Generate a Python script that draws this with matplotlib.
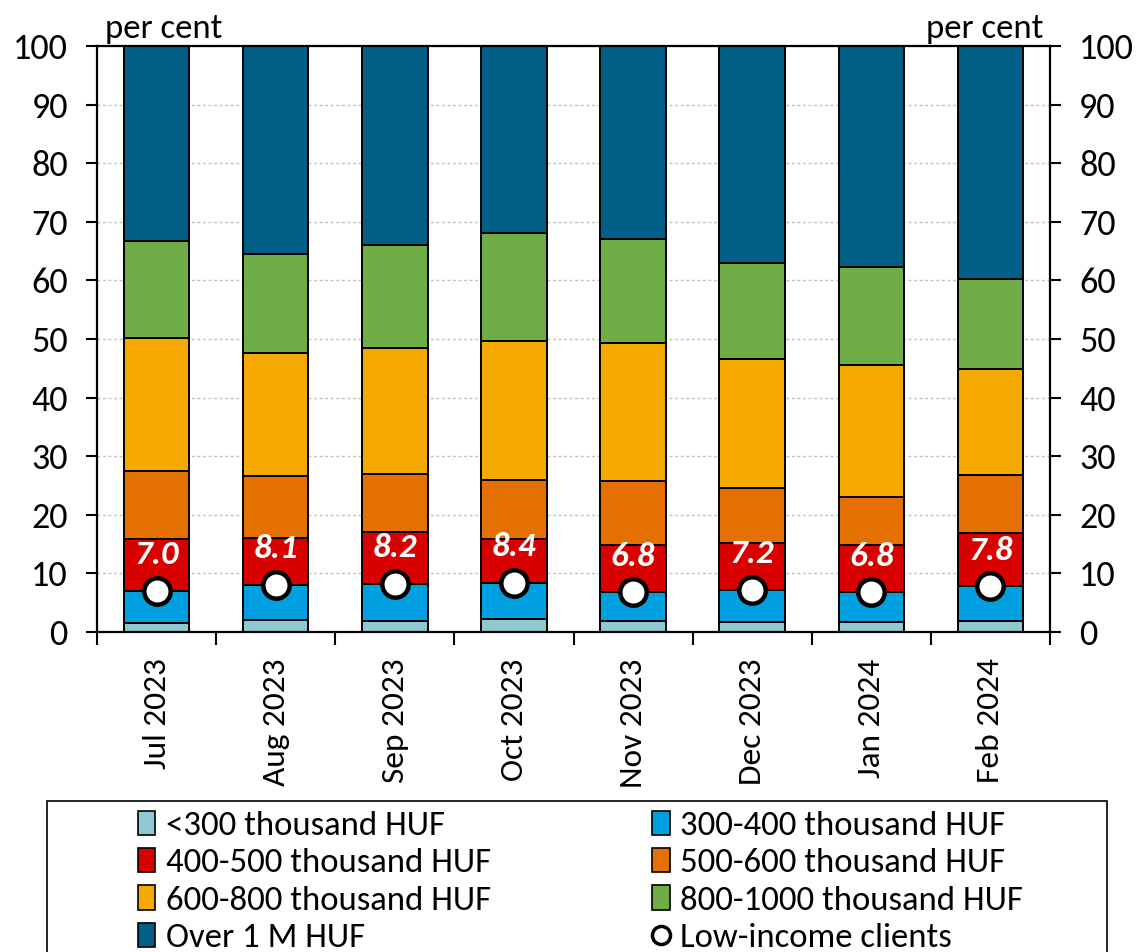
import numpy as np
import matplotlib
matplotlib.use("Agg")
import matplotlib.pyplot as plt
from matplotlib.patches import Rectangle, Patch
from matplotlib.lines import Line2D

plt.rcParams['font.family'] = ['Carlito', 'Lato', 'DejaVu Sans']

months = ["Jul 2023", "Aug 2023", "Sep 2023", "Oct 2023",
          "Nov 2023", "Dec 2023", "Jan 2024", "Feb 2024"]

# cumulative tops of each income band (per cent)
top_lt300 = [1.5, 2.0, 1.8, 2.3, 1.8, 1.7, 1.7, 1.9]
top_300_400 = [7.0, 8.1, 8.2, 8.4, 6.8, 7.2, 6.8, 7.8]
top_400_500 = [15.8, 16.0, 17.0, 15.9, 14.8, 15.2, 14.9, 16.9]
top_500_600 = [27.4, 26.7, 27.0, 25.9, 25.8, 24.5, 23.0, 26.8]
top_600_800 = [50.2, 47.6, 48.4, 49.7, 49.4, 46.6, 45.5, 44.9]
top_800_1000 = [66.8, 64.5, 66.0, 68.1, 67.1, 62.9, 62.3, 60.3]
top_over1m = [100, 100, 100, 100, 100, 100, 100, 100]

low_income = [7.0, 8.1, 8.2, 8.4, 6.8, 7.2, 6.8, 7.8]

band_names = ["<300 thousand HUF", "300-400 thousand HUF", "400-500 thousand HUF",
              "500-600 thousand HUF", "600-800 thousand HUF", "800-1000 thousand HUF",
              "Over 1 M HUF"]
band_colors = ["#8FC8D1", "#009FE0", "#D90000", "#E37000", "#F5A800", "#70AD47", "#005F87"]
tops = [top_lt300, top_300_400, top_400_500, top_500_600, top_600_800, top_800_1000, top_over1m]

fig = plt.figure(figsize=(11.38, 9.52), dpi=100)
ax = fig.add_axes([97 / 1138, 1 - 632 / 952, 953 / 1138, 586 / 952])

x = np.arange(len(months))
bottom = np.zeros(len(months))
for name, col, t in zip(band_names, band_colors, tops):
    t = np.array(t, dtype=float)
    ax.bar(x, t - bottom, bottom=bottom, width=0.55, color=col,
           edgecolor="black", linewidth=1.4, zorder=2)
    bottom = t

ax.plot(x, low_income, linestyle="none", marker="o", markersize=19,
        markerfacecolor="white", markeredgecolor="black", markeredgewidth=3.2, zorder=4)
for xi, v in zip(x, low_income):
    ax.annotate(f"{v:.1f}", (xi, v), xytext=(0, 26), textcoords="offset points",
                ha="center", va="center", color="white", fontsize=25,
                fontweight="bold", fontstyle="italic", zorder=5)

ax.set_xlim(-0.5, len(months) - 0.5)
ax.set_ylim(0, 100)
ax.set_yticks(np.arange(0, 101, 10))
ax.yaxis.grid(True, linestyle=(0, (2, 2)), color="#BFBFBF", linewidth=1, zorder=0)
ax.set_axisbelow(True)

ax.set_xticks(x)
ax.set_xticklabels(months, rotation=90, fontsize=24)
ax.set_xticks(np.arange(-0.5, len(months), 1), minor=True)
ax.tick_params(axis="x", which="major", length=0, pad=19)
ax.tick_params(axis="x", which="minor", length=9, width=1.5, direction="out")
ax.tick_params(axis="y", which="major", length=8, width=1.5, direction="out", pad=13,
               labelsize=26, left=True, right=True, labelleft=True, labelright=True)

for s in ax.spines.values():
    s.set_linewidth(1.6)
    s.set_color("black")

ax.text(0.008, 1.003, "per cent", transform=ax.transAxes, ha="left", va="bottom", fontsize=25)
ax.text(0.993, 1.003, "per cent", transform=ax.transAxes, ha="right", va="bottom", fontsize=25)

# legend
fig.patches.append(Rectangle((47 / 1138, -0.05), 1060 / 1138, 0.05 + (952 - 801) / 952,
                             transform=fig.transFigure, facecolor="white",
                             edgecolor="black", linewidth=1.2))
handles = [Patch(facecolor=c, edgecolor="black", linewidth=1.2) for c in band_colors]
handles.append(Line2D([], [], linestyle="none", marker="o", markersize=13,
                      markerfacecolor="white", markeredgecolor="black", markeredgewidth=2.5))
labels = band_names + ["Low-income clients"]
# order so that two columns read row-wise
order = [0, 2, 4, 6, 1, 3, 5, 7]
leg = fig.legend([handles[i] for i in order], [labels[i] for i in order],
                 loc="upper left", bbox_to_anchor=(124 / 1138, 1 - 797 / 952),
                 ncol=2, frameon=False, fontsize=25, handlelength=0.5, handleheight=0.7,
                 handletextpad=0.3, columnspacing=4.65, labelspacing=0.2, borderaxespad=0)

fig.savefig("out.png", dpi=100)
